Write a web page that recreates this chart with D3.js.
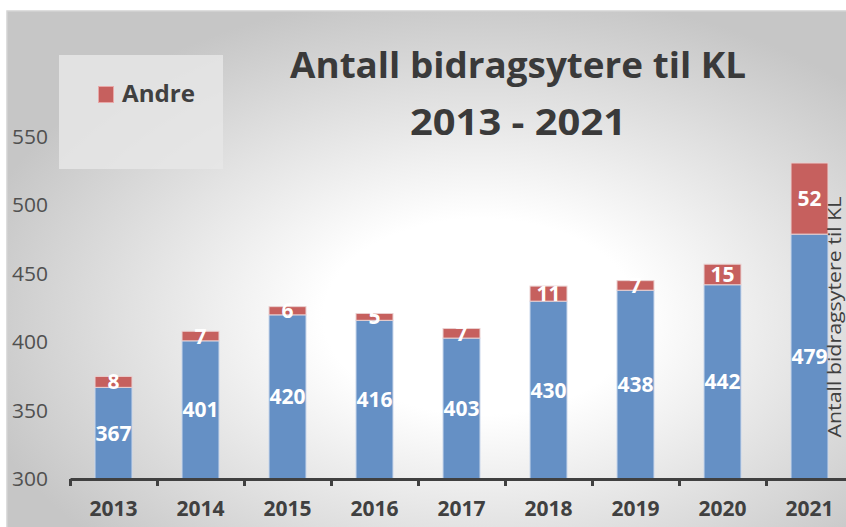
<!DOCTYPE html>
<html><head><meta charset="utf-8">
<script src="https://cdn.jsdelivr.net/npm/d3@7"></script>
<style>
html,body{margin:0;padding:0;background:#fff;}
svg{display:block;}
</style></head>
<body>
<svg id="chart" width="846" height="527"></svg>
<script>
const years = ["2013","2014","2015","2016","2017","2018","2019","2020","2021"];
const kl = [367,401,420,416,403,430,438,442,479];
const andre = [8,7,6,5,7,11,7,15,52];
const yTicks = [300,350,400,450,500,550];
const titleLines = ["Antall bidragsytere til KL","2013 - 2021"];
const legendLabel = "Andre";
const axisTitle = "Antall bidragsytere til KL";

const W = 846, H = 527;
const svg = d3.select("#chart");
const defs = svg.append("defs");
const grad = defs.append("radialGradient").attr("id","bg")
  .attr("cx","0.56").attr("cy","0.58").attr("r","0.62").attr("fx","0.56").attr("fy","0.58");
grad.append("stop").attr("offset","0").attr("stop-color","#ffffff");
grad.append("stop").attr("offset","0.3").attr("stop-color","#ffffff");
grad.append("stop").attr("offset","1").attr("stop-color","#c6c6c6");

svg.append("rect").attr("x",7).attr("y",11).attr("width",W).attr("height",H)
  .attr("fill","url(#bg)").attr("stroke","#d4d4d4").attr("stroke-width",1.5);

const font = "'Open Sans', 'DejaVu Sans', sans-serif";
const x = d3.scaleBand().domain(years).range([70, 70 + 87*9]).paddingInner(0.575).paddingOuter(0.2875);
const y = d3.scaleLinear().domain([300,550]).range([479,137]);
const xEdges = d3.scaleLinear().domain([0,9]).range([70, 70 + 87*9]);

// legend box
svg.append("rect").attr("x",59).attr("y",55).attr("width",164).attr("height",114)
  .attr("fill","#e6e6e6").attr("opacity",0.85);
svg.append("rect").attr("x",98.5).attr("y",86.5).attr("width",15).attr("height",16)
  .attr("fill","#c6605e").attr("stroke","#e8a8a8").attr("stroke-width",1);
svg.append("text").attr("x",122).attr("y",102).text(legendLabel)
  .attr("font-family",font).attr("font-weight","bold").attr("font-size",23)
  .attr("fill","#404040").attr("textLength",73).attr("lengthAdjust","spacingAndGlyphs");

// title
const tb = [[290,746,78],[410,626,135]];
titleLines.forEach((t,i)=>{
  svg.append("text").attr("x",tb[i][0]).attr("y",tb[i][2]).text(t)
    .attr("font-family",font).attr("font-weight","bold").attr("font-size",36)
    .attr("fill","#3a3a3a").attr("textLength",tb[i][1]-tb[i][0]).attr("lengthAdjust","spacingAndGlyphs");
});

// y axis
const yAxis = svg.append("g").attr("transform","translate(48,0)")
  .call(d3.axisLeft(y).tickValues(yTicks).tickSize(0).tickPadding(0));
yAxis.select(".domain").remove();
yAxis.selectAll("text").attr("font-family",font).attr("font-size",20).attr("fill","#505050")
  .attr("textLength",36).attr("lengthAdjust","spacingAndGlyphs");

// bars
const data = years.map((yr,i)=>({yr, kl:kl[i], andre:andre[i]}));
const g = svg.append("g");
g.selectAll("rect.kl").data(data).join("rect").attr("class","kl")
  .attr("x",d=>x(d.yr)).attr("width",x.bandwidth())
  .attr("y",d=>y(d.kl)).attr("height",d=>y(300)-y(d.kl))
  .attr("fill","#6590c5").attr("stroke","#c9d7ea").attr("stroke-width",1);
g.selectAll("rect.an").data(data).join("rect").attr("class","an")
  .attr("x",d=>x(d.yr)).attr("width",x.bandwidth())
  .attr("y",d=>y(d.kl+d.andre)).attr("height",d=>y(d.kl)-y(d.kl+d.andre))
  .attr("fill","#c6605e").attr("stroke","#ead0d0").attr("stroke-width",1);

// labels
const lab = svg.append("g").attr("font-family",font).attr("font-weight","bold")
  .attr("font-size",21).attr("fill","#ffffff").attr("text-anchor","middle");
lab.selectAll("text.kl").data(data).join("text").attr("class","kl")
  .attr("x",d=>x(d.yr)+x.bandwidth()/2).attr("y",d=>(y(d.kl)+y(300))/2)
  .attr("dy","0.36em").text(d=>d.kl);
lab.selectAll("text.an").data(data).join("text").attr("class","an")
  .attr("x",d=>x(d.yr)+x.bandwidth()/2).attr("y",d=>(y(d.kl)+y(d.kl+d.andre))/2)
  .attr("dy","0.36em").text(d=>d.andre);

// x axis
const xa = svg.append("g").attr("transform","translate(0,479)")
  .call(d3.axisBottom(xEdges).tickValues(d3.range(10)).tickFormat("").tickSizeInner(7).tickSizeOuter(0));
xa.select(".domain").attr("stroke","#404040").attr("stroke-width",3);
xa.selectAll(".tick line").attr("stroke","#404040").attr("stroke-width",3);
const xl = svg.append("g").attr("transform","translate(0,479)")
  .call(d3.axisBottom(x).tickSize(0).tickPadding(0));
xl.select(".domain").remove();
xl.selectAll("text").attr("y",37).attr("dy",0).attr("font-family",font).attr("font-weight","bold")
  .attr("font-size",21).attr("fill","#404040");

// right axis title
svg.append("text").attr("transform","translate(841,317) rotate(-90)")
  .attr("text-anchor","middle").text(axisTitle)
  .attr("font-family",font).attr("font-size",19).attr("fill","#404040")
  .attr("textLength",241).attr("lengthAdjust","spacingAndGlyphs");
</script>
</body></html>
